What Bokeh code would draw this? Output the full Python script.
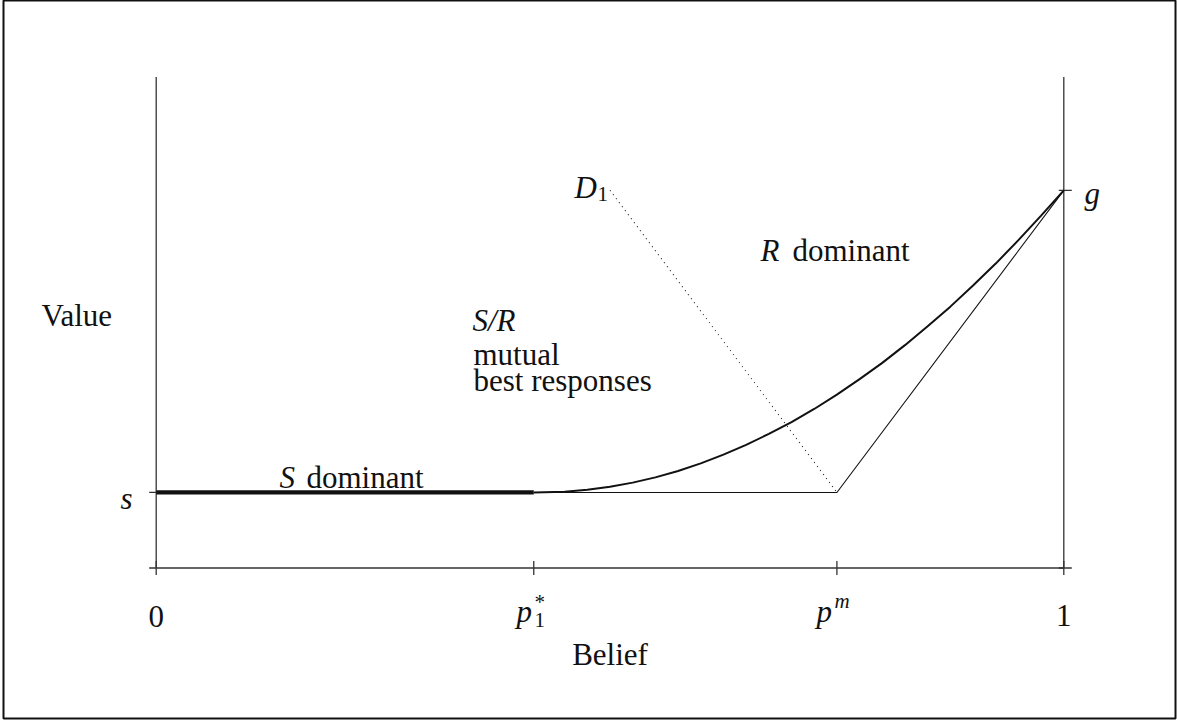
from bokeh.plotting import figure
from bokeh.models import Range1d, Label
from bokeh.embed import file_html
from bokeh.resources import INLINE

# ---------------- data ----------------
belief_ticks = [0.0, 0.416, 0.75, 1.0]         # 0, p1*, p^m, 1
value_ticks_left = [0.0, 0.2]                  # origin, s
value_ticks_right = [0.0, 1.0]                 # origin, g
axis_top = 1.30
p_star = 0.416
p_m = 0.75
s_value = 0.2
g_value = 1.0

# S dominant segment (thick)
sdom_x = [0.0, 0.416]
sdom_y = [0.2, 0.2]

# convex value curve from p1* to 1
curve_x = [0.416, 0.45, 0.475, 0.50, 0.525, 0.55, 0.575, 0.60, 0.625, 0.65, 0.675, 0.70,
           0.725, 0.75, 0.775, 0.80, 0.825, 0.85, 0.875, 0.90, 0.925, 0.95, 0.975, 1.00]
curve_y = [0.200, 0.202, 0.207, 0.215, 0.226, 0.240, 0.257, 0.277, 0.300, 0.326, 0.355, 0.386,
           0.421, 0.459, 0.500, 0.543, 0.590, 0.640, 0.692, 0.748, 0.806, 0.868, 0.933, 1.000]

# kinked thin line: flat until p^m, then straight to g
kink_x = [0.416, 0.75, 1.00]
kink_y = [0.20, 0.20, 1.00]

# dotted D1 line
d1_x = [0.50, 0.75]
d1_y = [1.00, 0.20]

# ---------------- geometry (screen px of the page) ----------------
W, H = 1177, 721
X0, KX = 155.7, 907.6      # screen x of belief 0, px per unit belief
Y0, KY = 567.5, 377.7      # screen y of value 0, px per unit value
FL, FR, FT, FB = 3, 1175, 0, 718   # outer frame edges

def dx(sx):
    return (sx - X0) / KX

def dy(sy):
    return (Y0 - sy) / KY

p = figure(width=W, height=H,
           x_range=Range1d(dx(FL), dx(FR)), y_range=Range1d(dy(FB), dy(FT)),
           x_axis_type=None, y_axis_type=None, toolbar_location=None,
           output_backend="svg",
           min_border_left=FL, min_border_right=W - FR,
           min_border_top=FT, min_border_bottom=H - FB)
p.background_fill_color = "white"
p.border_fill_color = "white"
p.outline_line_color = "#111111"
p.outline_line_width = 2

AX = "#333333"
AXW = 1.3
TK = 7.0  # tick length px

# axes lines
p.segment(x0=[0.0, 1.0, 0.0], y0=[0.0, 0.0, 0.0],
          x1=[0.0, 1.0, 1.0], y1=[axis_top, axis_top, 0.0],
          line_color=AX, line_width=AXW)
# bottom ticks (crossing)
p.segment(x0=belief_ticks, y0=[-TK / KY] * len(belief_ticks),
          x1=belief_ticks, y1=[TK / KY] * len(belief_ticks),
          line_color=AX, line_width=AXW)
# left ticks (outward)
p.segment(x0=[-TK / KX] * len(value_ticks_left), y0=value_ticks_left,
          x1=[0.0] * len(value_ticks_left), y1=value_ticks_left,
          line_color=AX, line_width=AXW)
# right ticks
p.segment(x0=[1.0 - 5 / KX] * len(value_ticks_right), y0=value_ticks_right,
          x1=[1.0 + 8 / KX] * len(value_ticks_right), y1=value_ticks_right,
          line_color=AX, line_width=AXW)

# ---------------- marks ----------------
p.line(kink_x, kink_y, line_color="#111111", line_width=1.1)
p.line(curve_x, curve_y, line_color="#111111", line_width=2.0)
p.line(sdom_x, sdom_y, line_color="#111111", line_width=4.2)
p.line(d1_x, d1_y, line_color="#222222", line_width=1.1, line_dash="1 4")

# ---------------- text ----------------
FONT = "Liberation Serif"
FS = "31px"
FSS = "21px"

def lab(text, sx, sy, size=FS, italic=False, align="left"):
    p.add_layout(Label(x=dx(sx), y=dy(sy), text=text, text_font=FONT,
                       text_font_size=size,
                       text_font_style="italic" if italic else "normal",
                       text_align=align, text_baseline="alphabetic",
                       text_color="#111111"))

# axis titles
lab("Value", 41, 315)
lab("Belief", 609.5, 654, align="center")

# tick labels
lab("0", X0 + belief_ticks[0] * KX, 616, align="center")
lab("1", X0 + belief_ticks[3] * KX, 615, align="center")
lab("p", 516, 611, italic=True)
lab("*", 534, 601, size=FSS)
lab("1", 534, 619, size=FSS)
lab("p", 816, 611, italic=True)
lab("m", 834, 600, size=FSS, italic=True)
lab("s", 120, 498, italic=True)
lab("g", 1084, 193, italic=True)

# region labels
lab("S", 279, 477, italic=True)
lab("dominant", 306, 477)
lab("R", 760, 250, italic=True)
lab("dominant", 792, 250)
lab("S/R", 472, 320, italic=True)
lab("mutual", 473, 354)
lab("best responses", 473, 380)
lab("D", 574, 187, italic=True)
lab("1", 597, 193, size=FSS)

open("out.html", "w").write(file_html(p, INLINE))
